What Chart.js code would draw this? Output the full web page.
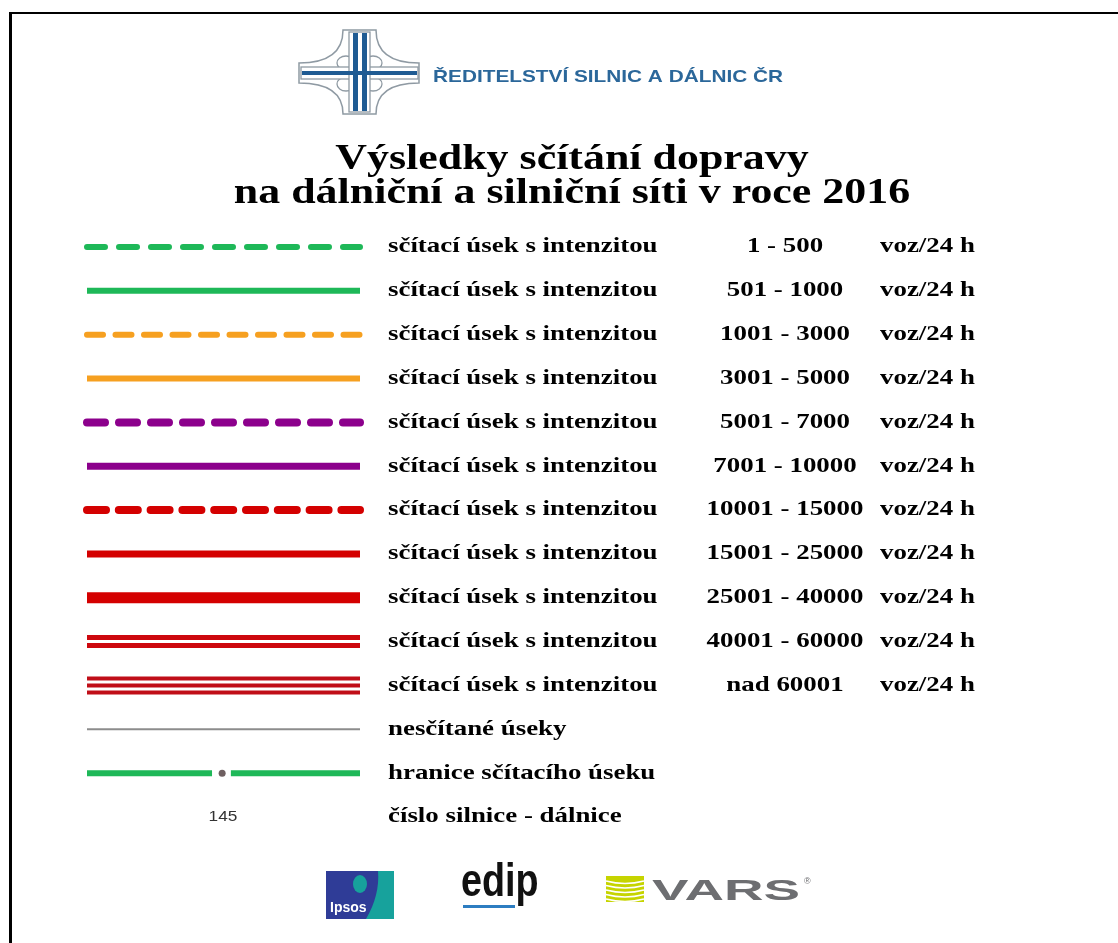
<!DOCTYPE html>
<html>
<head>
<meta charset="utf-8">
<script src="https://cdn.jsdelivr.net/npm/chart.js@4.4.1/dist/chart.umd.min.js"></script>
<style>
  html, body { margin: 0; padding: 0; background: #fff; }
  #wrap { width: 1118px; height: 943px; position: relative; }
</style>
</head>
<body>
<div id="wrap"><canvas id="legenda"></canvas></div>
<script>
// intervaly intenzit (voz/24 h)
const ranges = [
    '1 - 500', '501 - 1000', '1001 - 3000', '3001 - 5000',
    '5001 - 7000', '7001 - 10000', '10001 - 15000', '15001 - 25000',
    '25001 - 40000', '40001 - 60000', 'nad 60001'
];
const rowLabel = 'sčítací úsek s intenzitou';
const unit = 'voz/24 h';
const extraLabels = ['nesčítané úseky', 'hranice sčítacího úseku', 'číslo silnice - dálnice'];
const roadNumber = '145';
// hranice useku: konec 1. casti, bod, zacatek 2. casti (podil delky cary)
const boundary = [0.458, 0.495, 0.527];

const title = ['Výsledky sčítání dopravy', 'na dálniční a silniční síti v roce 2016'];
const orgName = 'ŘEDITELSTVÍ SILNIC A DÁLNIC ČR';

// vzhled car pro jednotlive intervaly
const styles = [
    { color: 'rgb(30,184,88)', width: 6, dash: [18, 14] },
    { color: 'rgb(30,184,88)', width: 6 },
    { color: 'rgb(246,160,32)', width: 6, dash: [16, 12.5] },
    { color: 'rgb(246,160,32)', width: 6 },
    { color: 'rgb(140,0,140)', width: 8, dash: [18, 14] },
    { color: 'rgb(140,0,140)', width: 7 },
    { color: 'rgb(212,0,0)', width: 8, dash: [19, 12.8] },
    { color: 'rgb(212,0,0)', width: 7 },
    { color: 'rgb(212,0,0)', width: 11 },
    { color: 'rgb(205,8,14)', width: 13, inner: [{ color: '#fff', width: 3 }] },
    { color: 'rgb(192,14,24)', width: 18, inner: [{ color: '#fff', width: 10 }, { color: 'rgb(192,14,24)', width: 4 }] }
];

const seg = (row) => [{ x: 0, y: row }, { x: 1, y: row }];

const datasets = [];
ranges.forEach((r, i) => {
    const s = styles[i];
    datasets.push({
        label: r,
        data: seg(i),
        borderColor: s.color,
        borderWidth: s.width,
        borderDash: s.dash || [],
        borderCapStyle: s.dash ? 'round' : 'butt',
        order: 10
    });
    (s.inner || []).forEach((inn, k) => {
        datasets.push({
            label: r + ' ' + k,
            data: seg(i),
            borderColor: inn.color,
            borderWidth: inn.width,
            borderCapStyle: 'butt',
            order: 9 - k
        });
    });
});
// nescitane useky
datasets.push({
    label: extraLabels[0],
    data: seg(11),
    borderColor: '#8c8c8c',
    borderWidth: 2,
    order: 10
});
// hranice scitaciho useku
datasets.push({
    label: extraLabels[1],
    data: [{ x: 0, y: 12 }, { x: boundary[0], y: 12 }, { x: boundary[1], y: null }, { x: boundary[2], y: 12 }, { x: 1, y: 12 }],
    borderColor: 'rgb(30,184,88)',
    borderWidth: 6,
    spanGaps: false,
    order: 10
});
datasets.push({
    label: 'bod',
    data: [{ x: boundary[1], y: 12 }],
    showLine: false,
    pointRadius: 3.5,
    pointBackgroundColor: '#6e5f60',
    pointBorderWidth: 0,
    order: 1
});

function stretchText(ctx, txt, x, y, align, sx) {
    ctx.save();
    ctx.translate(x, y);
    ctx.scale(sx, 1);
    ctx.textAlign = align;
    ctx.fillText(txt, 0, 0);
    ctx.restore();
}

function fitText(ctx, txt, x, y, w) {
    const m = ctx.measureText(txt).width;
    stretchText(ctx, txt, x, y, 'left', w / m);
}

function drawTopLogo(ctx) {
    ctx.save();
    // obrys krizovatky
    ctx.beginPath();
    ctx.moveTo(343, 30);
    ctx.lineTo(376, 30);
    ctx.quadraticCurveTo(376, 63, 419, 63);
    ctx.lineTo(419, 83);
    ctx.quadraticCurveTo(376, 83, 376, 114);
    ctx.lineTo(343, 114);
    ctx.quadraticCurveTo(343, 83, 299, 83);
    ctx.lineTo(299, 63);
    ctx.quadraticCurveTo(343, 63, 343, 30);
    ctx.closePath();
    ctx.fillStyle = '#fff';
    ctx.fill();
    ctx.strokeStyle = '#8f9aa3';
    ctx.lineWidth = 1.5;
    ctx.stroke();
    // smycky
    ctx.lineWidth = 1.3;
    [[346, 63], [373, 63], [346, 84], [373, 84]].forEach(p => {
        ctx.beginPath();
        ctx.ellipse(p[0], p[1], 9, 7, 0, 0, Math.PI * 2);
        ctx.stroke();
    });
    // vodorovny pas
    ctx.fillStyle = '#fff';
    ctx.fillRect(301, 67, 117, 12);
    ctx.strokeRect(301, 67, 117, 12);
    // svisly pas
    ctx.fillRect(349, 32, 21, 80);
    ctx.strokeRect(349, 32, 21, 80);
    ctx.fillStyle = '#1f5b93';
    ctx.fillRect(302, 71, 115, 4);
    ctx.fillRect(353, 33, 5, 78);
    ctx.fillRect(362, 33, 5, 78);
    ctx.restore();

    ctx.save();
    ctx.fillStyle = '#2b679a';
    ctx.font = 'bold 17px "Liberation Sans"';
    ctx.textBaseline = 'middle';
    fitText(ctx, orgName, 433, 77, 350);
    ctx.restore();
}

function drawBottomLogos(ctx) {
    ctx.save();
    // Ipsos
    ctx.fillStyle = '#2f3c97';
    ctx.fillRect(326, 871, 68, 48);
    ctx.fillStyle = '#17a29c';
    ctx.beginPath();
    ctx.moveTo(378, 871);
    ctx.lineTo(394, 871);
    ctx.lineTo(394, 919);
    ctx.lineTo(366, 919);
    ctx.quadraticCurveTo(380, 895, 378, 871);
    ctx.fill();
    ctx.beginPath();
    ctx.ellipse(360, 884, 7, 9, 0, 0, Math.PI * 2);
    ctx.fill();
    ctx.fillStyle = '#fff';
    ctx.font = 'bold 14px "Liberation Sans"';
    ctx.textBaseline = 'alphabetic';
    ctx.textAlign = 'left';
    ctx.fillText('Ipsos', 330, 912);

    // edip
    ctx.fillStyle = '#111';
    ctx.font = 'bold 46px "Liberation Sans"';
    stretchText(ctx, 'edip', 461, 896, 'left', 0.82);
    ctx.fillStyle = '#2d7dc1';
    ctx.fillRect(463, 905, 52, 3);

    // VARS
    ctx.fillStyle = '#c6d400';
    ctx.fillRect(606, 876, 38, 26);
    ctx.strokeStyle = '#fff';
    ctx.lineWidth = 1.5;
    for (let k = 0; k < 5; k++) {
        const yy = 881 + k * 4.5;
        ctx.beginPath();
        ctx.moveTo(606, yy);
        ctx.quadraticCurveTo(625, yy + 5, 644, yy);
        ctx.stroke();
    }
    ctx.fillStyle = '#6d6e71';
    ctx.font = 'bold 29px "Liberation Sans"';
    const w = ctx.measureText('VARS').width;
    stretchText(ctx, 'VARS', 652, 900, 'left', 148 / w);
    ctx.font = '9px "Liberation Sans"';
    ctx.fillText('®', 804, 884);
    ctx.restore();
}

const legendPlugin = {
    id: 'legendTexts',
    beforeDraw(chart) {
        const ctx = chart.ctx;
        ctx.save();
        ctx.fillStyle = '#fff';
        ctx.fillRect(0, 0, chart.width, chart.height);
        ctx.fillStyle = '#000';
        ctx.fillRect(9, 12, 3, chart.height - 12);
        ctx.fillRect(9, 12, chart.width - 9, 2);
        ctx.restore();
    },
    afterDraw(chart) {
        const ctx = chart.ctx;
        const y = chart.scales.y;
        const SX = 1.28;
        drawTopLogo(ctx);

        ctx.save();
        ctx.fillStyle = '#000';
        ctx.textBaseline = 'middle';
        ctx.font = 'bold 36px "Liberation Serif"';
        stretchText(ctx, title[0], 572, 160, 'center', 1.22);
        stretchText(ctx, title[1], 572, 194, 'center', 1.22);

        ctx.font = 'bold 21px "Liberation Serif"';
        ranges.forEach((r, i) => {
            const py = y.getPixelForValue(i);
            stretchText(ctx, rowLabel, 388, py, 'left', SX);
            stretchText(ctx, r, 785, py, 'center', SX);
            stretchText(ctx, unit, 880, py, 'left', SX);
        });
        extraLabels.forEach((t, k) => {
            stretchText(ctx, t, 388, y.getPixelForValue(11 + k), 'left', SX);
        });
        ctx.fillStyle = '#333';
        ctx.font = '15px "Liberation Sans"';
        stretchText(ctx, roadNumber, 223, y.getPixelForValue(13), 'center', 1.15);
        ctx.restore();

        drawBottomLogos(ctx);
    }
};

const config = {
    type: 'line',
    data: { datasets: datasets },
    options: {
        responsive: true,
        maintainAspectRatio: false,
        animation: false,
        events: [],
        layout: {
            padding: { left: 87, right: 758, top: 247, bottom: 126 }
        },
        elements: {
            point: { radius: 0 },
            line: { tension: 0 }
        },
        datasets: {
            line: { clip: false }
        },
        scales: {
            x: { type: 'linear', min: 0, max: 1, display: false },
            y: { type: 'linear', min: 0, max: 13, reverse: true, display: false }
        },
        plugins: {
            legend: { display: false },
            tooltip: { enabled: false },
            title: { display: false }
        }
    },
    plugins: [legendPlugin]
};

const myChart = new Chart(document.getElementById('legenda'), config);
</script>
</body>
</html>
